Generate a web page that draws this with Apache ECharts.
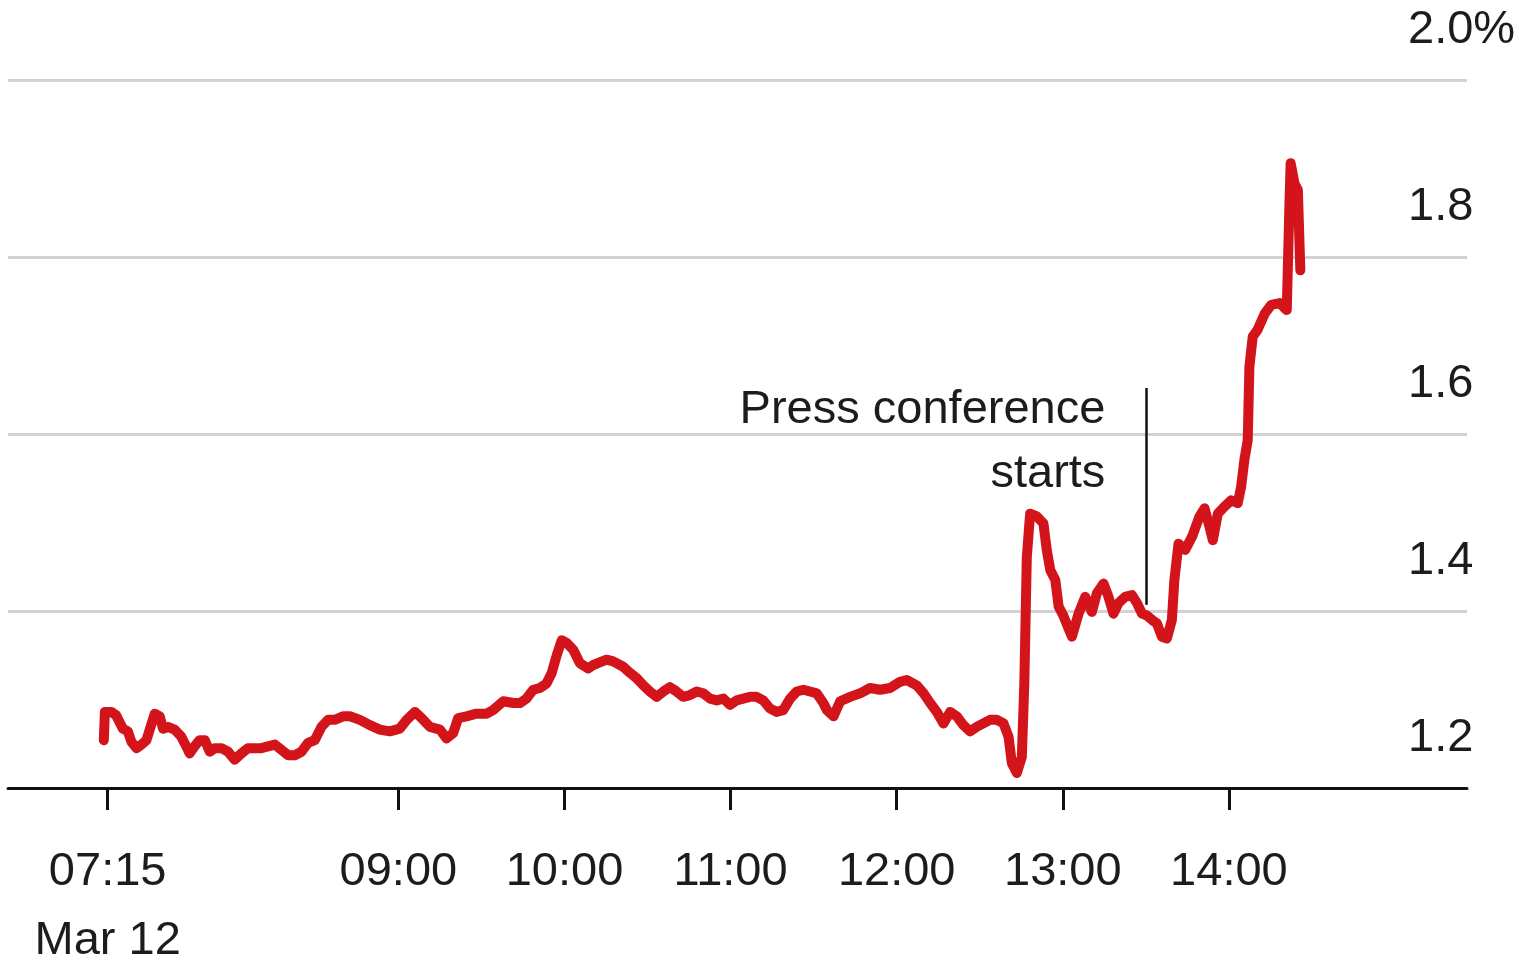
<!DOCTYPE html>
<html>
<head>
<meta charset="utf-8">
<script src="https://cdn.jsdelivr.net/npm/echarts@6/dist/echarts.min.js"></script>
<style>
  html, body { margin: 0; padding: 0; background: #fff; }
  #chart { width: 1534px; height: 967px; }
</style>
</head>
<body>
<div id="chart"></div>
<script>
// minutes after midnight (Mar 12) and yield in %
const minutes = [
  433.6, 434.0, 436.3, 438.1, 440.5, 442.3, 443.6, 445.4, 447.2, 449.0,
  450.2, 452.0, 453.8, 455.0, 456.8, 459.2, 461.6, 463.4, 464.6, 466.4,
  468.2, 470.1, 471.9, 473.7, 476.1, 478.5, 480.9, 483.3, 485.7, 488.1,
  490.5, 492.9, 495.4, 497.8, 500.2, 502.6, 505.0, 507.4, 509.8, 512.2,
  514.6, 517.0, 520.0, 522.5, 526.1, 529.7, 533.3, 536.9, 540.5, 543.0,
  546.0, 548.4, 551.4, 555.0, 557.4, 559.8, 561.6, 564.6, 568.2, 571.9,
  574.2, 577.9, 581.5, 583.9, 586.3, 588.7, 591.1, 593.5, 595.4, 597.2,
  599.0, 600.8, 603.2, 605.6, 608.6, 610.4, 615.2, 617.6, 621.2, 623.7,
  626.1, 628.5, 630.9, 633.3, 635.7, 638.1, 640.5, 642.9, 645.3, 647.8,
  650.1, 652.6, 655.0, 657.4, 659.8, 662.2, 664.6, 667.0, 669.4, 671.8,
  674.2, 676.6, 679.0, 681.5, 683.9, 686.3, 688.7, 691.1, 693.5, 694.8,
  697.2, 699.6, 703.2, 706.8, 710.4, 714.0, 717.6, 721.2, 723.6, 727.2,
  729.7, 732.1, 734.5, 736.9, 739.3, 741.7, 744.1, 746.5, 748.9, 751.3,
  753.7, 756.2, 758.6, 760.4, 761.6, 763.4, 765.2, 766.1, 767.0, 768.2,
  770.6, 773.0, 774.2, 775.5, 777.3, 778.5, 780.3, 783.3, 785.7, 788.1,
  790.5, 792.3, 794.7, 796.5, 798.3, 800.1, 802.5, 805.0, 806.8, 808.6,
  810.4, 812.2, 814.0, 815.8, 817.6, 819.4, 820.3, 821.8, 824.2, 826.7,
  829.4, 831.2, 833.0, 834.2, 836.0, 838.4, 840.8, 843.2, 844.4, 845.6,
  846.8, 847.4, 848.6, 850.4, 852.9, 855.3, 858.3, 860.9, 861.9, 862.3,
  863.7, 864.9, 865.8
];
const yields = [
  1.254, 1.286, 1.286, 1.282, 1.267, 1.264, 1.252, 1.245, 1.249, 1.254,
  1.266, 1.284, 1.281, 1.267, 1.269, 1.266, 1.258, 1.247, 1.239, 1.247,
  1.254, 1.254, 1.241, 1.245, 1.245, 1.241, 1.232, 1.239, 1.245, 1.245,
  1.245, 1.247, 1.249, 1.243, 1.237, 1.237, 1.241, 1.251, 1.254, 1.269,
  1.277, 1.277, 1.281, 1.281, 1.277, 1.271, 1.266, 1.264, 1.267, 1.277,
  1.286, 1.279, 1.269, 1.266, 1.256, 1.262, 1.279, 1.281, 1.284, 1.284,
  1.288, 1.298, 1.296, 1.296, 1.301, 1.311, 1.313, 1.318, 1.330, 1.350,
  1.367, 1.364, 1.356, 1.341, 1.335, 1.339, 1.345, 1.343, 1.337, 1.330,
  1.324, 1.316, 1.309, 1.303, 1.309, 1.314, 1.309, 1.303, 1.305, 1.309,
  1.307, 1.301, 1.299, 1.301, 1.294, 1.299, 1.301, 1.303, 1.303, 1.299,
  1.290, 1.286, 1.288, 1.301, 1.309, 1.311, 1.309, 1.307, 1.296, 1.288,
  1.281, 1.298, 1.303, 1.307, 1.313, 1.311, 1.313, 1.320, 1.322, 1.316,
  1.307, 1.296, 1.286, 1.273, 1.286, 1.281, 1.271, 1.264, 1.269, 1.273,
  1.277, 1.277, 1.273, 1.258, 1.228, 1.217, 1.235, 1.318, 1.461, 1.510,
  1.507, 1.499, 1.469, 1.446, 1.435, 1.405, 1.394, 1.371, 1.397, 1.416,
  1.399, 1.420, 1.431, 1.416, 1.397, 1.409, 1.416, 1.418, 1.409, 1.397,
  1.395, 1.390, 1.386, 1.371, 1.369, 1.390, 1.435, 1.476, 1.469, 1.484,
  1.507, 1.516, 1.495, 1.480, 1.510, 1.518, 1.525, 1.522, 1.540, 1.571,
  1.593, 1.676, 1.710, 1.718, 1.736, 1.746, 1.748, 1.740, 1.864, 1.906,
  1.883, 1.876, 1.785
];
const tickMinutes = [435, 540, 600, 660, 720, 780, 840];
const dateLabel = 'Mar 12';
const pressConference = { minute: 810, top: 1.652, bottom: 1.407, text: 'Press conference\nstarts' };

const font = 'Liberation Sans, Arial, sans-serif';
const ink = '#1c1c1c';

function clock(m) {
  const h = Math.floor(m / 60);
  const mm = Math.round(m % 60);
  return String(h).padStart(2, '0') + ':' + String(mm).padStart(2, '0');
}

const chart = echarts.init(document.getElementById('chart'), null, { renderer: 'canvas' });
chart.setOption({
  animation: false,
  backgroundColor: '#ffffff',
  textStyle: { fontFamily: font },
  grid: {
    left: 8,
    right: 67,
    top: 80,
    bottom: 179,
    containLabel: false,
    outerBoundsMode: 'none'
  },
  xAxis: {
    type: 'value',
    min: 399,
    max: 926,
    axisLine: { show: true, lineStyle: { color: '#111', width: 3 } },
    axisTick: {
      show: true,
      length: 22,
      customValues: tickMinutes,
      lineStyle: { color: '#111', width: 3 }
    },
    axisLabel: {
      customValues: tickMinutes,
      margin: 50,
      color: ink,
      fontFamily: font,
      fontSize: 47,
      lineHeight: 69,
      verticalAlign: 'top',
      formatter: v => v === tickMinutes[0] ? clock(v) + '\n' + dateLabel : clock(v)
    },
    splitLine: { show: false }
  },
  yAxis: {
    type: 'value',
    position: 'right',
    min: 1.2,
    max: 2.0,
    interval: 0.2,
    axisLine: { show: false },
    axisTick: { show: false },
    axisLabel: {
      margin: -59,
      align: 'left',
      verticalAlign: 'bottom',
      lineHeight: 100,
      color: ink,
      fontFamily: font,
      fontSize: 47,
      formatter: v => Math.abs(v - 2) < 1e-9 ? '2.0%' : v.toFixed(1)
    },
    splitLine: { show: true, lineStyle: { color: '#d2d2d2', width: 3 } }
  },
  series: [{
    type: 'line',
    data: minutes.map((m, i) => [m, yields[i]]),
    showSymbol: false,
    symbol: 'none',
    lineStyle: { color: '#d3141a', width: 10, join: 'round', cap: 'round' },
    emphasis: { disabled: true },
    z: 3,
    markLine: {
      silent: true,
      symbol: ['none', 'none'],
      label: { show: false },
      lineStyle: { color: '#111', width: 2.5, type: 'solid' },
      data: [[
        { coord: [pressConference.minute, pressConference.top] },
        { coord: [pressConference.minute, pressConference.bottom] }
      ]]
    },
    markPoint: {
      silent: true,
      symbol: 'circle',
      symbolSize: 1,
      itemStyle: { color: 'rgba(0,0,0,0)' },
      label: {
        show: true,
        position: 'left',
        distance: 40,
        align: 'right',
        verticalAlign: 'top',
        offset: [0, -10],
        lineHeight: 64,
        color: ink,
        fontFamily: font,
        fontSize: 47,
        formatter: () => pressConference.text
      },
      data: [{ coord: [pressConference.minute, pressConference.top] }]
    }
  }]
});
</script>
</body>
</html>
